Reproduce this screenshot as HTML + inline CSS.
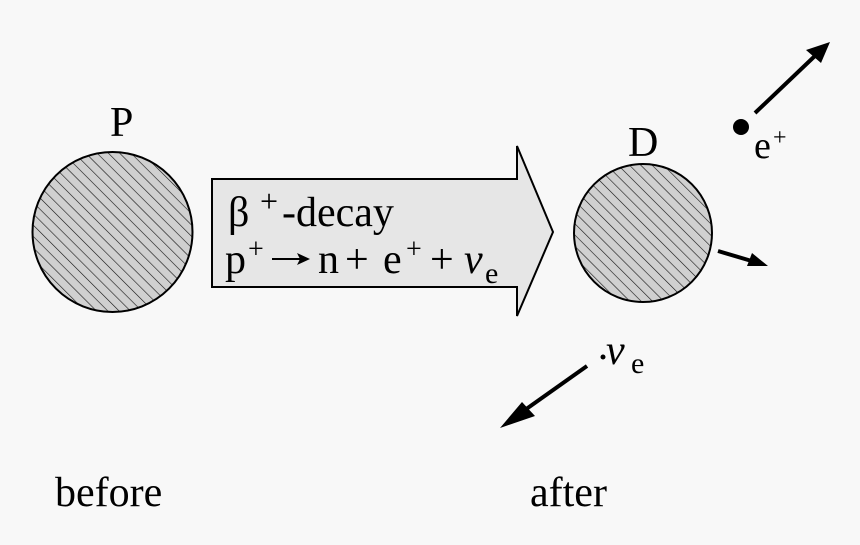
<!DOCTYPE html>
<html><head><meta charset="utf-8"><style>
html,body{margin:0;padding:0;background:#f8f8f8;}
svg{display:block}
text{font-family:"Liberation Serif",serif;fill:#000}
</style></head><body>
<svg width="860" height="545" viewBox="0 0 860 545">
<defs>
<pattern id="h" width="8" height="8" patternUnits="userSpaceOnUse" patternTransform="rotate(-45)">
<rect width="8" height="8" fill="#d0d0d0"/>
<line x1="0" y1="0" x2="0" y2="8" stroke="#111" stroke-width="1.2"/>
</pattern>
</defs>
<rect width="860" height="545" fill="#f8f8f8"/>
<circle cx="112.5" cy="232" r="80" fill="url(#h)" stroke="#000" stroke-width="2"/>
<circle cx="643" cy="233" r="69" fill="url(#h)" stroke="#000" stroke-width="2"/>
<text x="110" y="136" font-size="42">P</text>
<text x="628" y="156" font-size="42">D</text>
<polygon points="212,179 517,179 517,146 553,232 517,316 517,287 212,287" fill="#e6e6e6" stroke="#000" stroke-width="2"/>
<text x="228" y="226" font-size="42">β</text>
<text x="260" y="212" font-size="32">+</text>
<text x="282" y="226" font-size="42">-decay</text>
<text x="225" y="273" font-size="42">p</text>
<text x="248" y="258" font-size="28">+</text>
<line x1="272" y1="259" x2="306" y2="259" stroke="#000" stroke-width="2"/>
<polygon points="310,259 297,253 300,259 297,265" fill="#000"/>
<text x="318" y="273" font-size="42">n</text>
<text x="345" y="273" font-size="42">+</text>
<text x="383" y="273" font-size="42">e</text>
<text x="406" y="258" font-size="28">+</text>
<text x="430" y="273" font-size="42">+</text>
<text x="464" y="273" font-size="42" font-style="italic">ν</text>
<text x="485" y="283" font-size="30">e</text>
<circle cx="741" cy="127" r="8" fill="#000"/>
<text x="754" y="158" font-size="38">e</text>
<text x="773" y="145" font-size="24">+</text>
<line x1="755" y1="113" x2="818" y2="53" stroke="#000" stroke-width="4"/>
<polygon points="830,42 806,50 821,63" fill="#000"/>
<line x1="718" y1="251" x2="755" y2="262" stroke="#000" stroke-width="4"/>
<polygon points="768,266 752,253 747,266" fill="#000"/>
<line x1="587" y1="366" x2="515" y2="417" stroke="#000" stroke-width="4"/>
<polygon points="500,428 522,402 535,416" fill="#000"/>
<circle cx="603" cy="357" r="2.5" fill="#000"/>
<text x="606" y="364" font-size="42" font-style="italic">ν</text>
<text x="631" y="373" font-size="30">e</text>
<text x="55" y="506" font-size="42">before</text>
<text x="530" y="506" font-size="42">after</text>
</svg>
</body></html>
